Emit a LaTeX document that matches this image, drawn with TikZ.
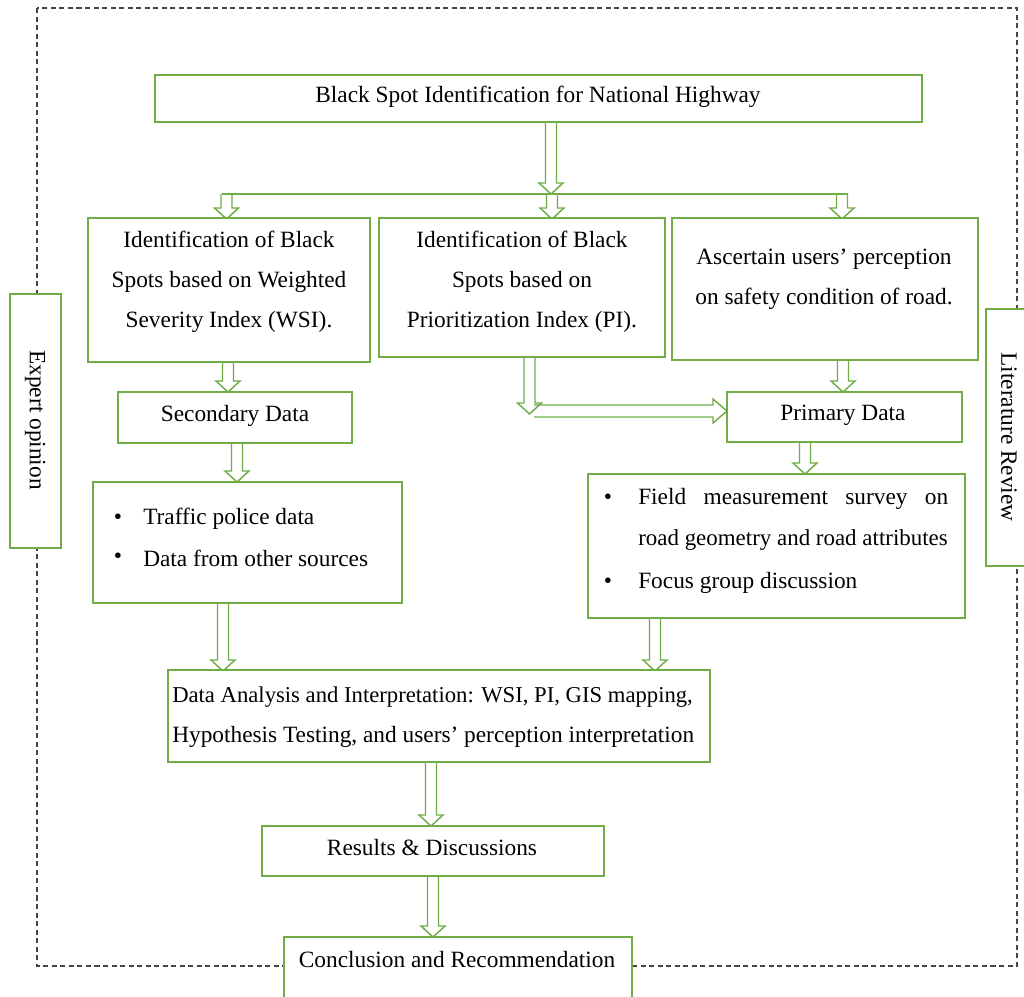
\documentclass[tikz,border=0pt]{standalone}
\usepackage{fontspec}
\setmainfont{Liberation Serif}
\usetikzlibrary{fit}
\definecolor{bgreen}{RGB}{112,173,71}
\definecolor{dgray}{RGB}{70,70,70}
\tikzset{
  box/.style={draw=bgreen, line width=1.4pt, fill=white, inner sep=0pt},
  txt/.style={font=\fontsize{17.5}{30}\selectfont, align=center, inner sep=0pt},
  arr/.style={draw=bgreen, line width=1.1pt, line join=miter},
  frame/.style={draw=dgray, line width=1.1pt, dash pattern=on 3.8pt off 2.6pt},
}
\newcommand\mkbox[5]{%
  \path (#2,#3) coordinate (#1-nw) (#4,#5) coordinate (#1-se);
  \node[box, fit=(#1-nw)(#1-se)] (#1) {};}
% vertical hollow arrow: x centre, y top, y tip
\newcommand\varr[3]{%
  \draw[arr] (#1-5.5,#2) -- (#1-5.5,#3-11) -- (#1-12,#3-11) -- (#1,#3)
    -- (#1+12,#3-11) -- (#1+5.5,#3-11) -- (#1+5.5,#2);}
\begin{document}
\begin{tikzpicture}[x=0.75pt,y=-0.75pt]
\clip (0,0) rectangle (1024,996);
\fill[white] (0,0) rectangle (1024,996);
% dashed frame
\coordinate (f1) at (37,8);
\coordinate (f2) at (1017,966);
\draw[frame] (f1) rectangle (f2);
% arrows
\varr{551}{122}{194}
\draw[arr] (222,194) -- (848,194);
\varr{226.5}{194}{219}
\varr{552}{194}{219}
\varr{842}{194}{219}
\varr{228}{362}{392}
\varr{843}{360}{392}
\varr{237}{443}{482}
\varr{805}{442}{474}
\varr{223}{603}{671}
\varr{655}{618}{671}
\varr{431}{762}{826}
\varr{433}{876}{937}
% PI L-shaped arrow
\varr{529.5}{357}{414}
\draw[arr] (534,405) -- (713,405) -- (713,399) -- (727,411) -- (713,423) -- (713,417) -- (534,417);
% boxes
\mkbox{title}{155}{75}{922}{122}
\mkbox{wsi}{88}{218}{370}{362}
\mkbox{pi}{379}{218}{665}{357}
\mkbox{asc}{672}{218}{978}{360}
\mkbox{exp}{10}{294}{61}{548}
\mkbox{lit}{986}{309}{1040}{566}
\mkbox{sec}{118}{392}{352}{443}
\mkbox{pri}{727}{392}{962}{442}
\mkbox{tra}{93}{482}{402}{603}
\mkbox{fld}{588}{474}{965}{618}
\mkbox{dat}{168}{670}{710}{762}
\mkbox{res}{262}{826}{604}{876}
\mkbox{con}{284}{937}{632}{1000}
% texts
\node[txt] (t-title) at (538,97) {Black Spot Identification for National Highway};
\node[txt] (t-wsi) at (229,282) {Identification of Black\\Spots based on Weighted\\Severity Index (WSI).};
\node[txt] (t-pi) at (522,282) {Identification of Black\\Spots based on\\Prioritization Index (PI).};
\node[txt] (t-asc) at (824,279) {Ascertain users’ perception\\on safety condition of road.};
\node[txt, rotate=-90] (t-exp) at (35,420) {Expert opinion};
\node[txt, rotate=-90] (t-lit) at (1009,437) {Literature Review};
\node[txt] (t-sec) at (235,416) {Secondary Data};
\node[txt] (t-pri) at (843,415) {Primary Data};
\node[txt] (b1) at (118,519) {•};
\node[txt, anchor=west] (t-tr1) at (143,519) {Traffic police data};
\node[txt] (b2) at (118,558) {•};
\node[txt, anchor=west] (t-tr2) at (143,558) {Data from other sources};
\node[txt] (b3) at (608,499) {•};
\node[txt, anchor=west] (t-f1) at (638,499) {\makebox[232.5pt][s]{Field\hfill measurement\hfill survey\hfill on}};
\node[txt, anchor=west] (t-f2) at (638,540) {\fontsize{17.2}{30}\selectfont road geometry and road attributes};
\node[txt] (b4) at (608,583) {•};
\node[txt, anchor=west] (t-f3) at (638,583) {Focus group discussion};
\node[txt, align=left, anchor=west] (t-dat) at (172,717) {{\fontsize{17}{30}\selectfont Data Analysis and Interpretation: WSI, PI, GIS mapping,}\\Hypothesis Testing, and users’ perception interpretation};
\node[txt] (t-res) at (432,848) {Results \& Discussions};
\node[txt] (t-con) at (457,960) {Conclusion and Recommendation};
\end{tikzpicture}
\end{document}
